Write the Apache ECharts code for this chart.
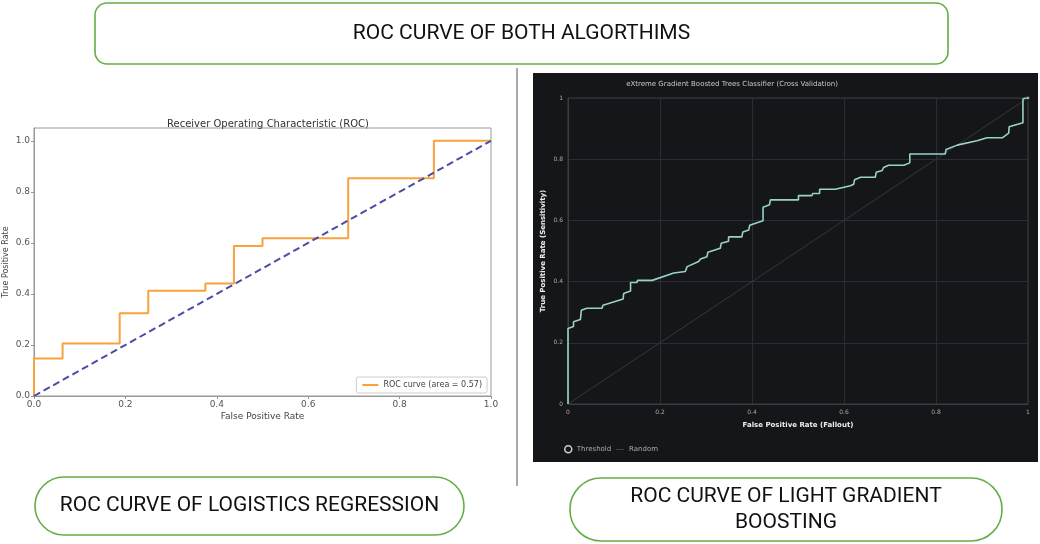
<!DOCTYPE html>
<html>
  <head>
    <meta charset="UTF-8">
    <title>ROC curves</title>
    <script src="https://cdn.jsdelivr.net/npm/echarts@6/dist/echarts.min.js"></script>
    <style>
      html, body { margin: 0; padding: 0; background: #fff; }
      #chart { width: 1040px; height: 544px; }
    </style>
  </head>
  <body>
    <div id="chart"></div>
    <script type="text/javascript">
     // logistic regression ROC (corner points, like sklearn roc_curve)
     var lrFpr = [0, 0, 0.0625, 0.0625, 0.1875, 0.1875, 0.25, 0.25, 0.375, 0.375,
                  0.4375, 0.4375, 0.5, 0.5, 0.6875, 0.6875, 0.875, 0.875, 1];
     var lrTpr = [0, 0.147, 0.147, 0.206, 0.206, 0.324, 0.324, 0.412, 0.412, 0.441,
                  0.441, 0.588, 0.588, 0.618, 0.618, 0.853, 0.853, 1, 1];
     var lrLabel = 'ROC curve (area = 0.57)';

     // gradient boosting ROC
     var xgbFpr = [0, 0, 0.012, 0.012, 0.027, 0.029, 0.041, 0.074, 0.076, 0.120,
                   0.121, 0.136, 0.136, 0.150, 0.151, 0.183, 0.230, 0.255, 0.259, 0.284,
                   0.288, 0.302, 0.304, 0.331, 0.333, 0.349, 0.349, 0.378, 0.380, 0.393,
                   0.395, 0.424, 0.424, 0.438, 0.440, 0.501, 0.501, 0.530, 0.532, 0.547,
                   0.547, 0.581, 0.614, 0.621, 0.623, 0.636, 0.668, 0.670, 0.683, 0.686,
                   0.697, 0.730, 0.743, 0.743, 0.820, 0.822, 0.846, 0.889, 0.911, 0.944,
                   0.958, 0.959, 0.989, 0.989, 0.994, 1];
     var xgbTpr = [0, 0.247, 0.253, 0.269, 0.276, 0.306, 0.313, 0.313, 0.323, 0.343,
                   0.361, 0.369, 0.397, 0.397, 0.404, 0.404, 0.428, 0.433, 0.449, 0.466,
                   0.474, 0.481, 0.496, 0.509, 0.525, 0.532, 0.546, 0.546, 0.562, 0.569,
                   0.584, 0.599, 0.643, 0.651, 0.667, 0.667, 0.681, 0.681, 0.688, 0.688,
                   0.702, 0.702, 0.713, 0.718, 0.733, 0.741, 0.741, 0.757, 0.763, 0.773,
                   0.780, 0.780, 0.788, 0.817, 0.817, 0.832, 0.846, 0.860, 0.870, 0.870,
                   0.885, 0.906, 0.919, 0.997, 1, 1];

     var diagonal = [0, 1];

     function pairs(xs, ys) {
       var out = [];
       for (var i = 0; i < xs.length; i++) out.push([xs[i], ys[i]]);
       return out;
     }

     var green = '#63ae47';
     var boxFont = 'Roboto, "Liberation Sans", sans-serif';
     var plotFont = '"DejaVu Sans", sans-serif';
     var darkLegendText = { fontSize: 7, color: '#aaa', fontFamily: plotFont };

     // rounded caption box with centred text
     function captionBox(x, y, w, h, r, text) {
       return {
         type: 'group',
         children: [
           {
             type: 'rect',
             shape: { x: x, y: y, width: w, height: h, r: r },
             style: { fill: '#fff', stroke: green, lineWidth: 1.6 }
           },
           {
             type: 'text',
             x: x + w / 2,
             y: y + h / 2,
             style: {
               text: text,
               fill: '#111',
               font: '21px ' + boxFont,
               align: 'center',
               verticalAlign: 'middle',
               lineHeight: 26
             }
           }
         ]
       };
     }

     var chart = echarts.init(document.getElementById('chart'));

     chart.setOption({
       backgroundColor: '#fff',
       animation: false,
       graphic: [
         // dark panel behind the boosting chart
         {
           type: 'rect', z: -10,
           shape: { x: 533, y: 73, width: 505, height: 389 },
           style: { fill: '#141619' }
         },
         {
           type: 'line',
           shape: { x1: 517, y1: 68, x2: 517, y2: 486 },
           style: { stroke: '#555', lineWidth: 1 }
         },
         captionBox(95, 3, 853, 61, 12, 'ROC CURVE OF BOTH ALGORTHIMS'),
         captionBox(35, 477, 429, 58, 29, 'ROC CURVE OF LOGISTICS REGRESSION'),
         captionBox(570, 478, 432, 63, 31, 'ROC CURVE OF LIGHT GRADIENT\nBOOSTING')
       ],
       title: [
         {
           text: 'Receiver Operating Characteristic (ROC)',
           left: 263, top: 114, textAlign: 'center',
           textStyle: { fontSize: 10, fontWeight: 'normal', color: '#333', fontFamily: plotFont }
         },
         {
           text: 'eXtreme Gradient Boosted Trees Classifier (Cross Validation)',
           left: 727, top: 76, textAlign: 'center',
           textStyle: { fontSize: 7, fontWeight: 'normal', color: '#c8c8c8', fontFamily: plotFont }
         }
       ],
       legend: [
         {
           data: [{ name: lrLabel, icon: 'rect' }],
           right: 553, top: 377,
           orient: 'vertical',
           backgroundColor: '#fff',
           borderColor: '#ccc',
           borderWidth: 1,
           borderRadius: 2,
           padding: [4, 5, 4, 6],
           itemWidth: 16, itemHeight: 2,
           textStyle: { fontSize: 8, color: '#444', fontFamily: plotFont }
         },
         {
           data: [
             { name: 'Threshold', icon: 'circle', itemStyle: { color: '#141619', borderColor: '#fff', borderWidth: 1.5 } }
           ],
           left: 559, top: 440,
           itemWidth: 7, itemHeight: 7,
           textStyle: darkLegendText
         },
         {
           data: [{ name: 'Random', icon: 'rect', itemStyle: { color: '#3c3f43' } }],
           left: 611, top: 441,
           itemWidth: 8, itemHeight: 1,
           textStyle: darkLegendText
         }
       ],
       grid: [
         {
           left: 34, top: 128, width: 457, height: 268,
           show: true, borderColor: '#999', borderWidth: 1
         },
         {
           left: 568, top: 98, width: 460, height: 306,
           show: true, borderColor: '#3a3d41', borderWidth: 1
         }
       ],
       xAxis: [
         {
           gridIndex: 0, type: 'value', min: 0, max: 1, interval: 0.2,
           name: 'False Positive Rate', nameLocation: 'middle', nameGap: 16,
           nameTextStyle: { fontSize: 9, color: '#444', fontFamily: plotFont },
           axisLine: { lineStyle: { color: '#999' } },
           axisTick: { show: true, length: 3, lineStyle: { color: '#999' } },
           axisLabel: { fontSize: 9, color: '#555', margin: 4, fontFamily: plotFont,
                        formatter: function (v) { return v.toFixed(1); } },
           splitLine: { show: false }
         },
         {
           gridIndex: 1, type: 'value', min: 0, max: 1, interval: 0.2,
           name: 'False Positive Rate (Fallout)', nameLocation: 'middle', nameGap: 18,
           nameTextStyle: { fontSize: 7, color: '#eee', fontWeight: 'bold', fontFamily: plotFont },
           axisLine: { lineStyle: { color: '#3a3d41' } },
           axisTick: { show: false },
           axisLabel: { fontSize: 6, color: '#aaa', margin: 5, fontFamily: plotFont },
           splitLine: { show: true, lineStyle: { color: '#2a2d31' } }
         }
       ],
       yAxis: [
         {
           gridIndex: 0, type: 'value', min: 0, max: 1.05, interval: 0.2,
           name: 'True Positive Rate', nameLocation: 'middle', nameGap: 24,
           nameTextStyle: { fontSize: 8, color: '#444', fontFamily: plotFont },
           axisLine: { show: true, lineStyle: { color: '#999' } },
           axisTick: { show: true, length: 3, lineStyle: { color: '#999' } },
           axisLabel: { fontSize: 9, color: '#555', margin: 4, showMaxLabel: false, fontFamily: plotFont,
                        formatter: function (v) { return v.toFixed(1); } },
           splitLine: { show: false }
         },
         {
           gridIndex: 1, type: 'value', min: 0, max: 1, interval: 0.2,
           name: 'True Positive Rate (Sensitivity)', nameLocation: 'middle', nameGap: 21,
           nameTextStyle: { fontSize: 7, color: '#eee', fontWeight: 'bold', fontFamily: plotFont },
           axisLine: { show: true, lineStyle: { color: '#3a3d41' } },
           axisTick: { show: false },
           axisLabel: { fontSize: 6, color: '#aaa', margin: 5, fontFamily: plotFont },
           splitLine: { show: true, lineStyle: { color: '#2a2d31' } }
         }
       ],
       series: [
         {
           name: 'chance',
           type: 'line', xAxisIndex: 0, yAxisIndex: 0,
           data: pairs(diagonal, diagonal),
           symbol: 'none',
           lineStyle: { color: '#4b4ba8', width: 2, type: [7, 4] },
           z: 3
         },
         {
           name: lrLabel,
           type: 'line', xAxisIndex: 0, yAxisIndex: 0,
           data: pairs(lrFpr, lrTpr),
           symbol: 'none',
           itemStyle: { color: '#f8a23e' },
           lineStyle: { color: '#f8a23e', width: 2 },
           z: 2
         },
         {
           name: 'Random',
           type: 'line', xAxisIndex: 1, yAxisIndex: 1,
           data: pairs(diagonal, diagonal),
           symbol: 'none',
           itemStyle: { color: '#3c3f43' },
           lineStyle: { color: '#34373b', width: 1 }
         },
         {
           name: 'ROC',
           type: 'line', xAxisIndex: 1, yAxisIndex: 1,
           data: pairs(xgbFpr, xgbTpr),
           symbol: 'none',
           lineStyle: { color: '#9ad3c4', width: 1.6 }
         },
         {
           name: 'Threshold',
           type: 'scatter', xAxisIndex: 1, yAxisIndex: 1,
           data: [[1, 1]],
           symbol: 'emptyCircle', symbolSize: 4,
           itemStyle: { color: '#141619', borderColor: '#fff', borderWidth: 1 }
         }
       ]
     });
    </script>
  </body>
</html>
